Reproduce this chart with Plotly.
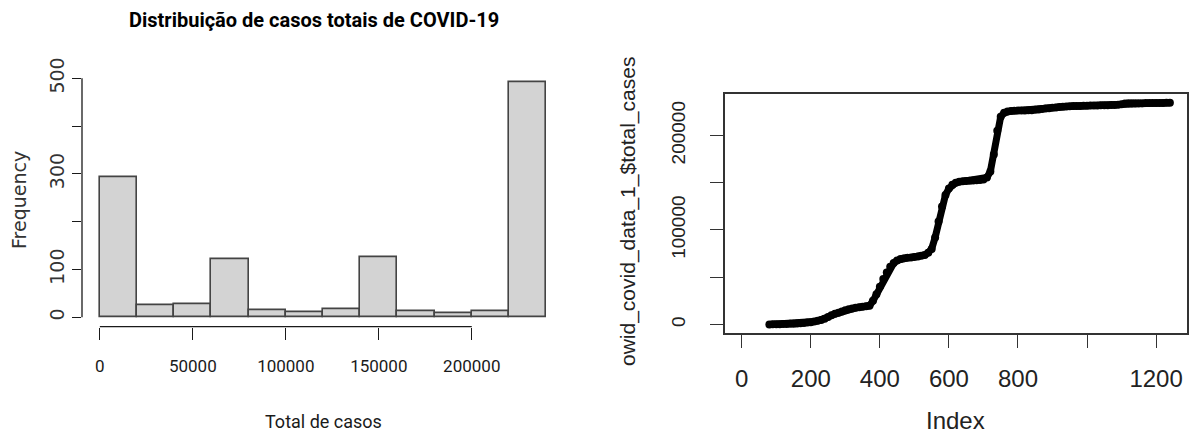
import plotly.graph_objects as go

# ---- Histogram of total cases ----
bin_edges = [0, 20000, 40000, 60000, 80000, 100000, 120000,
             140000, 160000, 180000, 200000, 220000, 240000]
counts = [294, 26, 28, 122, 15, 11, 17, 125, 12, 8, 12, 491]
hist_xticks = [0, 50000, 100000, 150000, 200000]
hist_yticks = [0, 100, 200, 300, 400, 500]
hist_yticktext = ["0", "100", "", "300", "", "500"]

# ---- Total cases by row index (every 10th row) ----
n_rows = 1240
case_index = list(range(80, 1241, 10))
total_cases = [
    0, 100, 200, 300, 400, 500, 600, 800, 1000, 1300,
    1600, 2000, 2400, 3000, 3800, 4800, 6000, 7800, 9800, 11200,
    12500, 13800, 15000, 16000, 16900, 17600, 18200, 18800, 19300, 19800,
    25000, 32000, 40000, 48000, 55000, 61000, 65000, 67800, 69200, 70000,
    70600, 71000, 71500, 72000, 72600, 73500, 76000, 80000, 92000, 109000,
    125000, 137000, 144000, 148000, 150000, 151000, 151500, 152000, 152200, 152400,
    152600, 152800, 153500, 155500, 162000, 180000, 205000, 220000, 224000, 225500,
    226000, 226200, 226400, 226500, 226600, 226700, 226900, 227200, 227600, 228100,
    228600, 229000, 229400, 229800, 230200, 230500, 230800, 231000, 231200, 231300,
    231400, 231500, 231600, 231700, 231800, 231900, 232000, 232100, 232200, 232300,
    232400, 232500, 233200, 234000, 234100, 234200, 234200, 234300, 234300, 234400,
    234400, 234400, 234500, 234500, 234500, 234600, 234600,
]
index_ticks = [0, 200, 400, 600, 800, 1000, 1200]
index_ticktext = ["0", "200", "400", "600", "800", "", "1200"]
case_ticks = [0, 50000, 100000, 150000, 200000]
case_ticktext = ["0", "", "100000", "", "200000"]

W, H = 1190, 436
NARROW = "Roboto, Liberation Sans, sans-serif"
SANS = "Liberation Sans, Arial, sans-serif"
WIDE = "DejaVu Sans, Verdana, sans-serif"
INK = "#1a1a1a"


def padded(lo, hi):
    d = (hi - lo) * 0.04
    return [lo - d, hi + d]


centers = [(a + b) / 2 for a, b in zip(bin_edges[:-1], bin_edges[1:])]
widths = [b - a for a, b in zip(bin_edges[:-1], bin_edges[1:])]

fig = go.Figure()

fig.add_trace(go.Bar(
    x=centers, y=counts, width=widths,
    marker=dict(color="#d3d3d3", line=dict(color="#444444", width=1.6)),
    xaxis="x", yaxis="y", showlegend=False, hoverinfo="x+y",
))

fig.add_trace(go.Scatter(
    x=case_index, y=total_cases, mode="lines+markers",
    line=dict(color="#000000", width=7),
    marker=dict(color="#000000", size=8, symbol="circle"),
    xaxis="x2", yaxis="y2", showlegend=False,
))

x_dom1 = [82 / W, 564 / W]
y_dom1 = [1 - 326.7 / H, 1 - 73.2 / H]
x_dom2 = [725 / W, 1187 / W]
y_dom2 = [1 - 333.3 / H, 1 - 94 / H]

fig.update_layout(
    template="none",
    width=W, height=H,
    margin=dict(l=0, r=0, t=0, b=0, pad=0),
    paper_bgcolor="white", plot_bgcolor="white",
    bargap=0,
    xaxis=dict(
        domain=x_dom1, anchor="y", automargin=False,
        range=padded(bin_edges[0], bin_edges[-1]),
        tickvals=hist_xticks, ticktext=[str(v) for v in hist_xticks],
        ticks="outside", ticklen=12, tickwidth=1.3, tickcolor=INK,
        ticklabelstandoff=12,
        tickfont=dict(family=NARROW, size=17, color=INK),
        showgrid=False, zeroline=False, showline=False,
    ),
    yaxis=dict(
        domain=y_dom1, anchor="x", automargin=False,
        range=padded(0, max(counts)),
        tickvals=hist_yticks, ticktext=hist_yticktext,
        tickangle=-90,
        ticks="outside", ticklen=9, tickwidth=1.3, tickcolor=INK,
        ticklabelstandoff=0,
        tickfont=dict(family=WIDE, size=19, color="#333333"),
        showgrid=False, zeroline=False, showline=False,
    ),
    xaxis2=dict(
        domain=x_dom2, anchor="y2", automargin=False,
        range=padded(1, n_rows),
        tickvals=index_ticks, ticktext=index_ticktext,
        ticks="outside", ticklen=13, tickwidth=1.3, tickcolor="#333333",
        ticklabelstandoff=10,
        tickfont=dict(family=SANS, size=24, color="#222222"),
        showgrid=False, zeroline=False,
        showline=True, mirror=True, linecolor="#333333", linewidth=1.5,
    ),
    yaxis2=dict(
        domain=y_dom2, anchor="x2", automargin=False,
        range=padded(0, max(total_cases)),
        tickvals=case_ticks, ticktext=case_ticktext,
        tickangle=-90,
        ticks="outside", ticklen=13, tickwidth=1.3, tickcolor="#333333",
        ticklabelstandoff=18,
        tickfont=dict(family=SANS, size=19, color="#222222"),
        showgrid=False, zeroline=False,
        showline=True, mirror=True, linecolor="#333333", linewidth=1.5,
    ),
)

# Base-graphics style axis lines that only span the tick range
fig.add_shape(type="line", xref="x", yref="y domain",
              x0=hist_xticks[0], x1=hist_xticks[-1], y0=0, y1=0,
              line=dict(color=INK, width=1.3))
fig.add_shape(type="line", xref="x domain", yref="y",
              x0=0, x1=0, y0=hist_yticks[0], y1=hist_yticks[-1],
              line=dict(color=INK, width=1.3))


# Titles and axis labels
def label(text, x, y, font, angle=0):
    fig.add_annotation(text=text, xref="paper", yref="paper",
                       x=x / W, y=1 - y / H, xanchor="center", yanchor="middle",
                       textangle=angle, showarrow=False, font=font)


label("<b>Distribuição de casos totais de COVID-19</b>", 314, 20,
      dict(family=NARROW, size=20, color="#000000"))
label("Total de casos", 323, 421, dict(family=NARROW, size=18, color=INK))
label("Frequency", 19, 200, dict(family=WIDE, size=19, color="#333333"), -90)
label("Index", 955, 420, dict(family=SANS, size=24, color="#222222"))
label("owid_covid_data_1_$total_cases", 628, 212,
      dict(family=SANS, size=21, color="#222222"), -90)

fig.write_html("out.html")
